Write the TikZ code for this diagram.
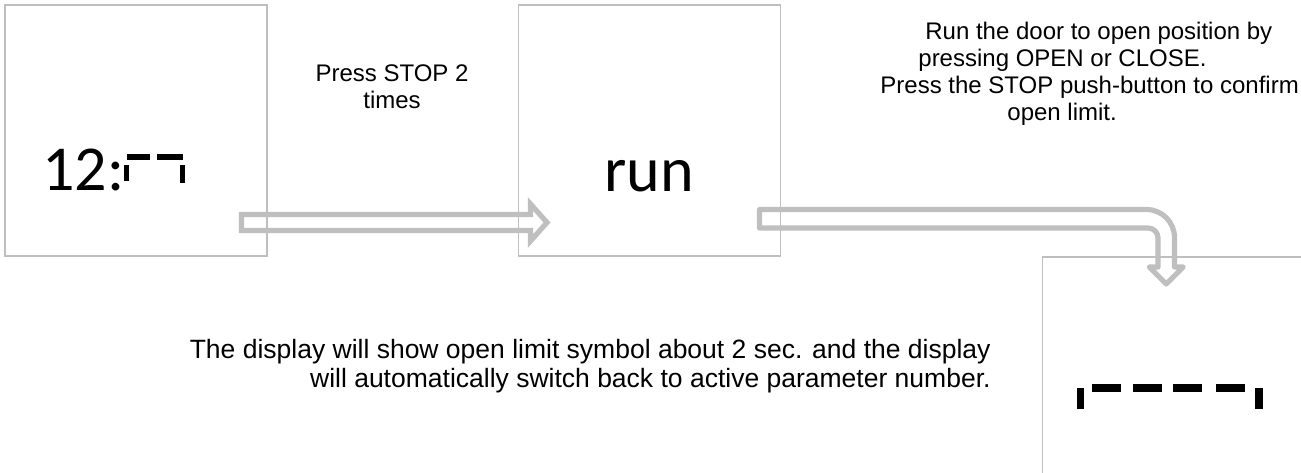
\documentclass[tikz,border=0pt]{standalone}
\usepackage{fontspec}
\setmainfont{Liberation Sans}
\newfontfamily\segfont{Carlito}
\usepackage{tikz}
\usetikzlibrary{positioning}
\tikzset{%
  panel/.style      = {draw=black!25, line width=0.9pt, rectangle, inner sep=0pt,
    minimum width=131pt, minimum height=125.5pt},
  readout/.style    = {font=\segfont\fontsize{32}{32}\selectfont, inner sep=0pt,
    anchor=base west},
  hint/.style       = {font=\fontsize{12}{13.5}\selectfont, inner sep=0pt}, % texts
  hintbig/.style    = {font=\fontsize{13.25}{14.5}\selectfont, inner sep=0pt},
  blockarrow/.style = {draw=black!25, line width=2.6pt}, % hollow arrows
  seg/.style        = {fill=black}
}

\begin{document}
\begin{tikzpicture}[x=0.5pt, y=-0.5pt]
  \useasboundingbox (0,0) rectangle (1301,472);

  \draw node at (136,130.5) [panel] (clock) {};
  \draw node at (649.5,130.5) [panel] (run) {};
  \draw node at (1173.5,382.5) [panel] (limit) {};

  \draw node at (42,190) [readout] (clocktxt) {12:};
  \draw node at (604,191) [readout] (runtxt) {run};

  % segment symbols
  \fill[seg] (127,154) rectangle (150,159.5);
  \fill[seg] (124,165) rectangle (129,180.5);
  \fill[seg] (157,154) rectangle (183,159.5);
  \fill[seg] (179.5,165) rectangle (185,183);
  \fill[seg] (1077,388) rectangle (1084,409);
  \foreach \x in {1092,1133,1173,1216}
    \fill[seg] (\x,384) rectangle ++(29,8);
  \fill[seg] (1255,388) rectangle (1263,409);

  \draw node at (392,108) [hint, align=center, anchor=base] (stop2)
    {Press STOP 2\\times};
  \draw node at (880,120) [hint, align=left, anchor=base west] (runhint)
    {\hspace*{22.5pt}Run the door to open position by\\
     \hspace*{19pt}pressing OPEN or CLOSE.\\
     Press the STOP push-button to confirm\\
     \hspace*{63.5pt}open limit.};
  \draw node at (991,387) [hintbig, align=right, anchor=base east] (showhint)
    {The display will show open limit symbol about 2 sec. and the display\\
     will automatically switch back to active parameter number.};

  \coordinate (a1s) at (241.5,222.5);
  \coordinate (a1e) at (547,222.5);
  \coordinate (a2s) at (759.5,218.75);
  \coordinate (a2e) at (1166.25,284);

  \draw[blockarrow] (a1s) ++(0,-8) -- ++(289,0) -- ++(0,-10.5) -- (a1e)
    -- ++(-16.5,18.5) -- ++(0,-10.5) -- ++(-289,0) -- cycle;
  \draw[blockarrow, line join=round] (a2s) ++(0,-9.25) -- (1146.5,209.5)
    arc[start angle=-90, end angle=0, radius=28] -- (1174.5,267)
    -- (1183.25,267) -- (a2e) -- (1149.25,267) -- (1158,267) -- (1158,238)
    arc[start angle=0, end angle=-90, radius=10] -- (759.5,228) -- cycle;

\end{tikzpicture}
\end{document}
